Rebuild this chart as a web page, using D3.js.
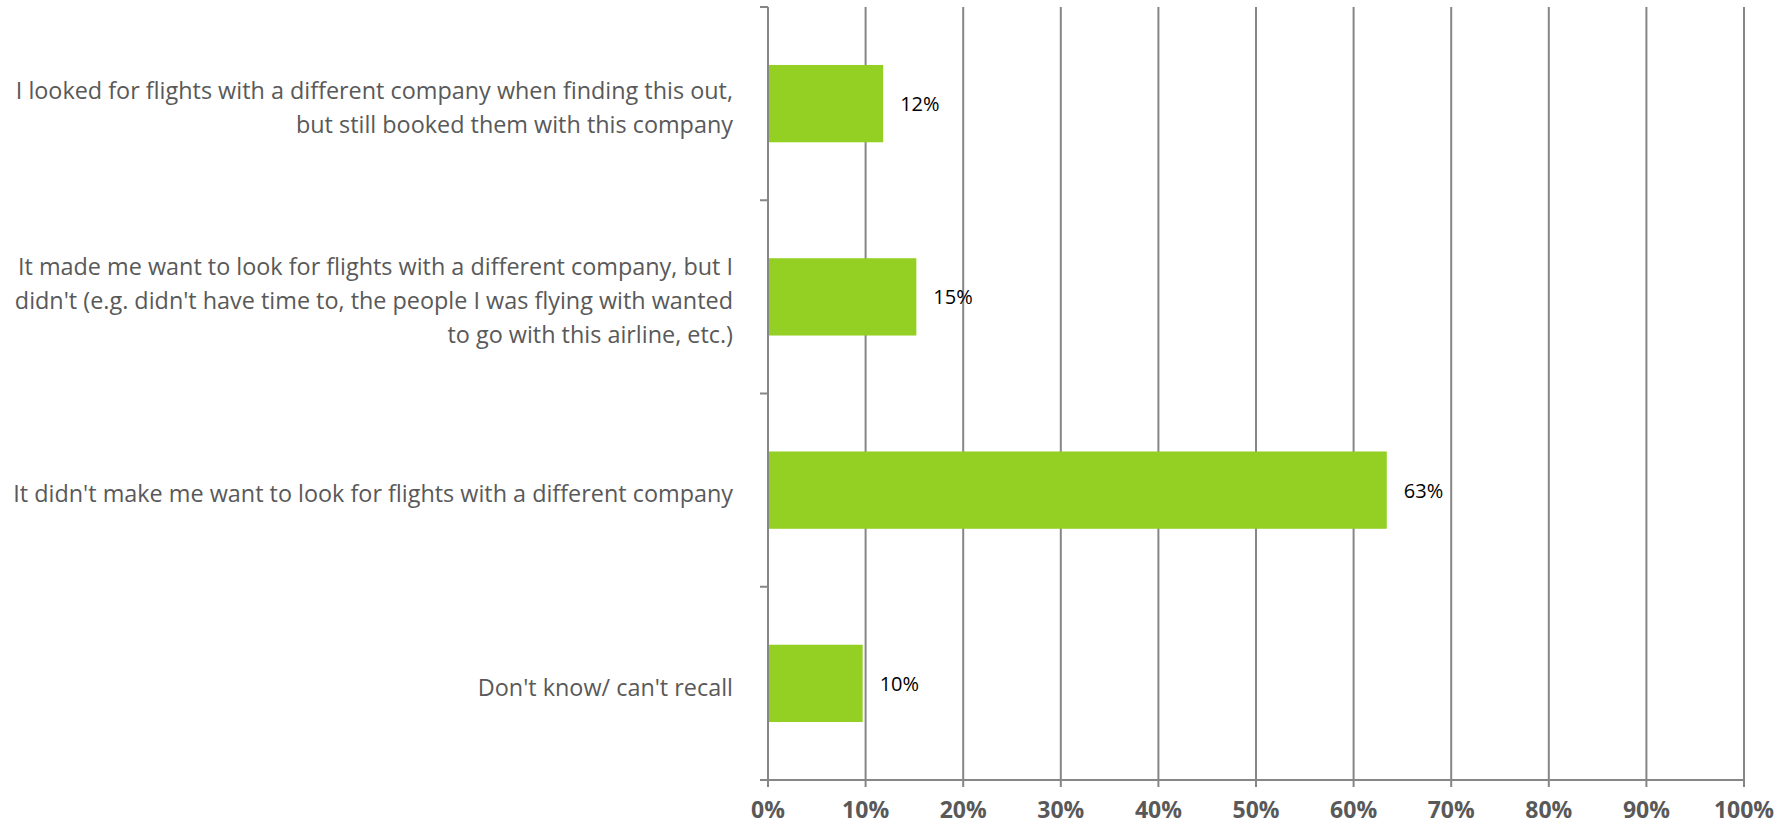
<!DOCTYPE html>
<html><head><meta charset="utf-8">
<script src="https://cdn.jsdelivr.net/npm/d3@7"></script>
<style>body{margin:0;background:#fff}svg{display:block}</style>
</head><body>
<svg id="chart" width="1791" height="826"></svg>
<script>
const categories = [
  ["I looked for flights with a different company when finding this out,", "but still booked them with this company"],
  ["It made me want to look for flights with a different company, but I", "didn't (e.g. didn't have time to, the people I was flying with wanted", "to go with this airline, etc.)"],
  ["It didn't make me want to look for flights with a different company"],
  ["Don't know/ can't recall"]
];
const values = [11.8, 15.2, 63.4, 9.7];
const valueLabels = ["12%", "15%", "63%", "10%"];
const ticks = [0,10,20,30,40,50,60,70,80,90,100];

(function(){
const svg = d3.select("#chart");
const L = 768, R = 1744, T = 7, B = 780;
const x = d3.scaleLinear().domain([0,100]).range([L,R]);
const y = d3.scaleBand().domain(d3.range(categories.length)).range([T,B]).paddingInner(0.6).paddingOuter(0.3);
const gridColor = "#868686";
const font = "'Open Sans', sans-serif";

svg.append("g").selectAll("line").data(ticks.slice(1)).join("line")
  .attr("x1", d=>x(d)).attr("x2", d=>x(d)).attr("y1", T).attr("y2", B+7)
  .attr("stroke", gridColor).attr("stroke-width", 2);

svg.append("g").selectAll("rect").data(values).join("rect")
  .attr("x", x(0)).attr("y", (d,i)=>y(i)).attr("width", d=>x(d)-x(0)).attr("height", y.bandwidth())
  .attr("fill", "#94cf24");

svg.append("line").attr("x1", L).attr("x2", L).attr("y1", T).attr("y2", B+7)
  .attr("stroke", gridColor).attr("stroke-width", 2);
const step = (B-T)/categories.length;
svg.append("g").selectAll("line").data(d3.range(categories.length)).join("line")
  .attr("x1", L-8).attr("x2", L).attr("y1", d=>T+d*step).attr("y2", d=>T+d*step)
  .attr("stroke", gridColor).attr("stroke-width", 2);
svg.append("line").attr("x1", L-8).attr("x2", R).attr("y1", B).attr("y2", B)
  .attr("stroke", gridColor).attr("stroke-width", 2);

svg.append("g").selectAll("text").data(ticks).join("text")
  .attr("x", d=>x(d)).attr("y", 818).attr("text-anchor","middle")
  .attr("font-family", font).attr("font-weight","bold").attr("font-size", 23)
  .attr("fill", "#595959").text(d=>d+"%");

svg.append("g").selectAll("text").data(values).join("text")
  .attr("x", d=>x(d)+17).attr("y", (d,i)=>y(i)+y.bandwidth()/2).attr("dy","0.37em")
  .attr("font-family", font).attr("font-size", 20).attr("fill","#000")
  .text((d,i)=>valueLabels[i]);

const lh = 34;
const cg = svg.append("g");
categories.forEach((lines,i)=>{
  const cy = y(i)+y.bandwidth()/2 + 4;
  const t = cg.append("text").attr("text-anchor","end")
    .attr("font-family", font).attr("font-size", 23.4).attr("fill","#595959");
  lines.forEach((ln,j)=>{
    t.append("tspan").attr("x", 733).attr("y", cy + (j-(lines.length-1)/2)*lh).attr("dy","0.35em").text(ln);
  });
});
})();
</script>
</body></html>
